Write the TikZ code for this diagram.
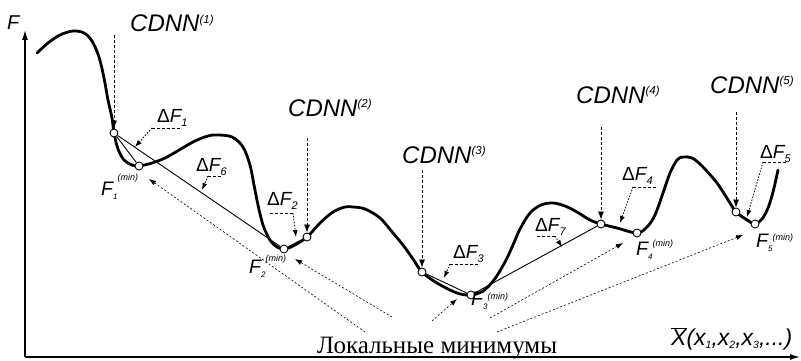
\documentclass[tikz,border=0pt]{standalone}
\usepackage{fontspec}
\setmainfont{Liberation Serif}
\newfontfamily\lsans{Liberation Sans}
\usetikzlibrary{arrows.meta}
\newcommand\cdnnlab[1]{{\fontsize{24}{24}\selectfont CDNN}\raisebox{8.5pt}{\fontsize{11.5}{12}\selectfont (#1)}}
\newcommand\dflab[1]{{\fontsize{19}{19}\selectfont{\upshape Δ}F}\raisebox{-4pt}{\fontsize{11}{11}\selectfont #1}}
\newcommand\fminlab[2][8pt]{{\fontsize{19.5}{20}\selectfont F}\raisebox{-4pt}{\fontsize{8}{8}\selectfont #2}\raisebox{#1}{\fontsize{9}{9}\selectfont (min)}}
\newcommand\sbx[1]{\raisebox{-3.5pt}{\fontsize{10.5}{10.5}\selectfont #1}}
\begin{document}
\begin{tikzpicture}[x=1pt,y=-1pt,
  curve/.style={line width=2.8pt, line cap=round, line join=round},
  chord/.style={line width=0.9pt},
  pt/.style={circle, draw, fill=white, line width=0.9pt, minimum size=8pt, inner sep=0pt},
  cdnnarrow/.style={dash pattern=on 3pt off 2pt, line width=0.8pt, -{Latex[length=8pt,width=6pt]}},
  lead/.style={dash pattern=on 3pt off 2pt, line width=0.8pt},
  leadarrow/.style={dash pattern=on 1.5pt off 1.5pt, line width=0.8pt, -{Latex[length=7pt,width=5pt]}},
  locarrow/.style={dash pattern=on 2pt off 2pt, line width=0.6pt, -{Latex[length=7pt,width=5pt]}},
  axis/.style={line width=1.4pt, -{Latex[length=10pt,width=6pt]}},
  lbl/.style={inner sep=0pt, anchor=base west, font=\lsans\itshape}]
\useasboundingbox (0,0) rectangle (801,361);
% axes
\coordinate (O) at (25,357);
\coordinate (Ytop) at (25,30);
\coordinate (Xend) at (800,357);
\draw[axis] (O) -- (Ytop);
\draw[axis] (O) -- (Xend);
\node[lbl, font=\lsans\itshape\fontsize{20}{20}\selectfont] (Flab) at (7,30) {F};
\node[lbl, font=\lsans\itshape\fontsize{23}{23}\selectfont] (Xlab) at (671,345) {$\overline{\hbox{X}}$(x\sbx{1},x\sbx{2},x\sbx{3},...)};
% curve
\draw[curve] plot[smooth, tension=0.55] coordinates {
(37,53) (48,43) (60,35) (73,31) (84,33) (92,41) (99,57) (104,78) (108,100) (112,118) (114,133)
(118,149) (124,160) (132,165) (139,166) (152,163) (167,157) (193,142) (208,136) (218,135)
(232,137) (243,147) (250,165) (254,185) (258,205) (263,225) (270,240) (277,247) (284,249)
(293,246) (307,237) (320,223) (333,212) (345,207) (353,207) (365,209) (380,218) (393,233)
(403,245) (413,259) (422,272) (437,283) (457,293) (471,295) (483,291) (494,280) (505,262)
(513,245) (520,229) (530,213) (541,205) (553,203) (565,206) (577,212) (590,220) (601,224)
(617,228) (637,233) (647,227) (655,215) (663,193) (670,173) (677,160) (683,157) (692,158)
(702,166) (717,183) (730,203) (736,212) (747,220) (755,224) (762,219) (768,208) (773,192) (778,170)};
% points
\node[pt] (c1) at (114,133) {};
\node[pt] (m1) at (139,166) {};
\node[pt] (c2) at (307,237) {};
\node[pt] (m2) at (284,249) {};
\node[pt] (c3) at (422,272) {};
\node[pt] (m3) at (471,295) {};
\node[pt] (c4) at (601,224) {};
\node[pt] (m4) at (637,233) {};
\node[pt] (c5) at (736,212) {};
\node[pt] (m5) at (755,224) {};
% chords
\draw[chord] (c1) -- (m1);
\draw[chord] (c1) -- (m2);
\draw[chord] (c2) -- (m2);
\draw[chord] (c3) -- (m3);
\draw[chord] (m3) -- (c4);
\draw[chord] (c4) -- (m4);
\draw[chord] (c5) -- (m5);
% CDNN labels and arrows
\node[lbl] (L1) at (130,32) {\cdnnlab{1}};
\node[lbl] (L2) at (288,116) {\cdnnlab{2}};
\node[lbl] (L3) at (402,163) {\cdnnlab{3}};
\node[lbl] (L4) at (576,103) {\cdnnlab{4}};
\node[lbl] (L5) at (710,93) {\cdnnlab{5}};
\coordinate (s1) at (114,35);
\coordinate (s2) at (307,138);
\coordinate (s3) at (422,170);
\coordinate (s4) at (601,127);
\coordinate (s5) at (736,112);
\draw[cdnnarrow] (s1) -- (c1);
\draw[cdnnarrow] (s2) -- (c2);
\draw[cdnnarrow] (s3) -- (c3);
\draw[cdnnarrow] (s4) -- (c4);
\draw[cdnnarrow] (s5) -- (c5);
% Delta F labels
\node[lbl] (D1) at (157,122) {\dflab{1}};
\node[lbl] (D6) at (196,171) {\dflab{6}};
\node[lbl] (D2) at (267,205) {\dflab{2}};
\node[lbl] (D3) at (453,258) {\dflab{3}};
\node[lbl] (D7) at (535,231) {\dflab{7}};
\node[lbl] (D4) at (622,180) {\dflab{4}};
\node[lbl] (D5) at (760,158) {\dflab{5}};
\coordinate (d1a) at (152,128); \coordinate (d1b) at (180,128); \coordinate (d1t) at (135,147);
\coordinate (d6a) at (208,176); \coordinate (d6b) at (221,176); \coordinate (d6t) at (202,190);
\coordinate (d2a) at (270,213); \coordinate (d2b) at (293,213); \coordinate (d2t) at (296,237);
\coordinate (d3a) at (450,264); \coordinate (d3b) at (478,264); \coordinate (d3t) at (444,278);
\coordinate (d7a) at (537,236); \coordinate (d7b) at (555,236); \coordinate (d7t) at (562,247);
\coordinate (d4a) at (633,187); \coordinate (d4b) at (657,187); \coordinate (d4t) at (620,223);
\coordinate (d5a) at (763,162); \coordinate (d5b) at (788,162); \coordinate (d5t) at (747,217);
\draw[lead] (d1a) -- (d1b); \draw[leadarrow] (d1a) -- (d1t);
\draw[lead] (d6a) -- (d6b); \draw[leadarrow] (d6a) -- (d6t);
\draw[lead] (d2a) -- (d2b); \draw[leadarrow] (d2b) -- (d2t);
\draw[lead] (d3a) -- (d3b); \draw[leadarrow] (d3a) -- (d3t);
\draw[lead] (d7a) -- (d7b); \draw[leadarrow] (d7b) -- (d7t);
\draw[lead] (d4a) -- (d4b); \draw[leadarrow] (d4a) -- (d4t);
\draw[lead] (d5a) -- (d5b); \draw[leadarrow] (d5a) -- (d5t);
% F min labels
\node[lbl] (F1) at (101,195) {\fminlab[15pt]{1}};
\node[lbl] (F2) at (249,273) {\fminlab[12pt]{2}};
\node[lbl] (F3) at (471,305) {\fminlab[6pt]{3}};
\node[lbl] (F4) at (636,255) {\fminlab[9pt]{4}};
\node[lbl] (F5) at (756,247) {\fminlab[7pt]{5}};
% local minima label and arrows
\node[inner sep=0pt, anchor=base west, font=\fontsize{25}{25}\selectfont] (loc) at (317,353) {Локальные минимумы};
\coordinate (a1) at (365,332); \coordinate (t1) at (149,179);
\coordinate (a2) at (392,317); \coordinate (t2) at (295,259);
\coordinate (a3) at (432,321); \coordinate (t3) at (457,299);
\coordinate (a4) at (490,318); \coordinate (t4) at (623,243);
\coordinate (a5) at (497,332); \coordinate (t5) at (743,235);
\draw[locarrow] (a1) -- (t1);
\draw[locarrow] (a2) -- (t2);
\draw[locarrow] (a3) -- (t3);
\draw[locarrow] (a4) -- (t4);
\draw[locarrow] (a5) -- (t5);
\end{tikzpicture}
\end{document}
